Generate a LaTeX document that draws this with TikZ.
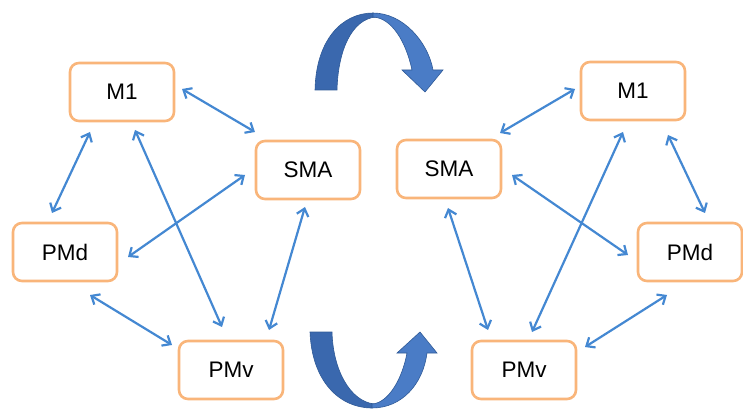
\documentclass[tikz,border=0pt]{standalone}
\usepackage{fontspec}
\setmainfont{Liberation Sans}
\usetikzlibrary{arrows.meta,calc}
\definecolor{boxorange}{HTML}{F9B57A}
\definecolor{linkblue}{HTML}{4488D2}
\definecolor{bigdark}{HTML}{3A68AE}
\definecolor{biglight}{HTML}{4A7CC6}
\definecolor{bigedge}{HTML}{2F5A97}
\tikzset{
  area/.style={draw=boxorange, line width=2.6pt, rounded corners=9pt, fill=white,
    minimum width=104pt, minimum height=58pt, inner sep=0pt,
    font=\fontsize{22.5}{26}\selectfont},
  link/.style={draw=linkblue, line width=2.2pt,
    {Straight Barb[length=7pt,width=12pt,line width=2.2pt]}-{Straight Barb[length=7pt,width=12pt,line width=2.2pt]}},
  bigarrowdark/.style={fill=bigdark, draw=bigedge, line width=0.6pt},
  bigarrowlight/.style={fill=biglight, draw=bigedge, line width=0.6pt}
}
\begin{document}
\begin{tikzpicture}[x=1pt,y=-1pt]
\useasboundingbox (0,0) rectangle (743,411);
% left network
\node[area] (lM1) at (122,92) {M1};
\node[area] (lSMA) at (308,170) {SMA};
\node[area] (lPMd) at (65,252) {PMd};
\node[area] (lPMv) at (231,370) {PMv};
\draw[link] ($(lM1)+(60,-3)$) -- ($(lSMA)+(-53,-38)$);
\draw[link] ($(lM1)+(-32,40)$) -- ($(lPMd)+(-13,-39)$);
\draw[link] ($(lM1)+(13,38)$) -- ($(lPMv)+(-9,-43)$);
\draw[link] ($(lSMA)+(-63,5)$) -- ($(lPMd)+(63,5)$);
\draw[link] ($(lSMA)+(-3,37)$) -- ($(lPMv)+(38,-40)$);
\draw[link] ($(lPMd)+(25,43)$) -- ($(lPMv)+(-59,-25)$);
% right network
\node[area] (rM1) at (633,91) {M1};
\node[area] (rSMA) at (449,169) {SMA};
\node[area] (rPMd) at (690,252) {PMd};
\node[area] (rPMv) at (524,370) {PMv};
\draw[link] ($(rM1)+(-58,-2)$) -- ($(rSMA)+(51,-36)$);
\draw[link] ($(rM1)+(35,44)$) -- ($(rPMd)+(15,-39)$);
\draw[link] ($(rM1)+(-10,41)$) -- ($(rPMv)+(8,-38)$);
\draw[link] ($(rSMA)+(63,6)$) -- ($(rPMd)+(-62,3)$);
\draw[link] ($(rSMA)+(-1,39)$) -- ($(rPMv)+(-36,-40)$);
\draw[link] ($(rPMd)+(-23,43)$) -- ($(rPMv)+(61,-23)$);
% top curved arrow
\filldraw[bigarrowdark] (315,90) .. controls (316,40) and (342,13) .. (373,13)
  -- (376,17) .. controls (352,19) and (338,50) .. (337,90) -- cycle;
\filldraw[bigarrowlight] (373,13) .. controls (403,13) and (428,42) .. (433,70)
  -- (443,70) -- (425,92) -- (402,70) -- (412,70)
  .. controls (406,42) and (392,18) .. (373,17) -- cycle;
% bottom curved arrow
\filldraw[bigarrowdark] (310,332) .. controls (312,382) and (340,408) .. (372,408)
  -- (374,404) .. controls (350,401) and (333,370) .. (332,332) -- cycle;
\filldraw[bigarrowlight] (372,408) .. controls (402,408) and (423,384) .. (427,353)
  -- (437,353) -- (420,332) -- (397,353) -- (407,353)
  .. controls (402,380) and (388,403) .. (372,404) -- cycle;
\end{tikzpicture}
\end{document}
